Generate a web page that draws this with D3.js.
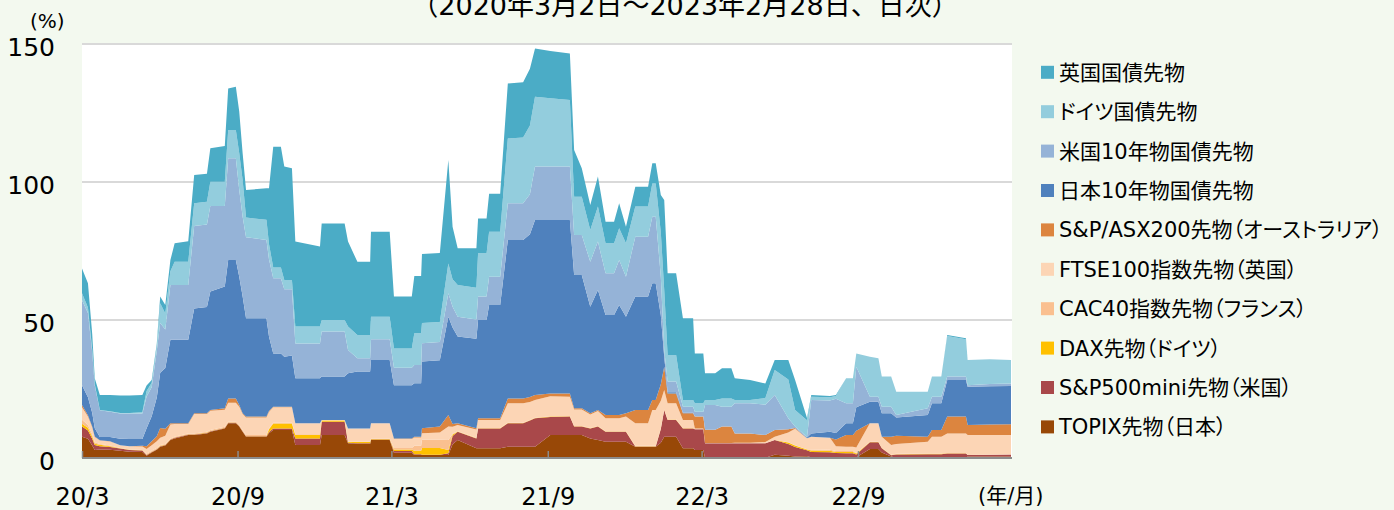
<!DOCTYPE html>
<html>
<head>
<meta charset="utf-8">
<script src="https://cdn.jsdelivr.net/npm/d3@7"></script>
<style>
body { margin: 0; background: #f3f9ef; }
svg { display: block; }
.jp { font-family: "DejaVu Sans", "Noto Sans CJK JP", sans-serif; font-feature-settings: "palt" 1; }
.num { font-family: "DejaVu Sans", sans-serif; }
</style>
</head>
<body>
<svg id="chart" width="1394" height="510"></svg>
<script>
// 2020/3/2 - 2023/2/28
var dates = [
  '2020-03-02','2020-03-09','2020-03-14','2020-03-17','2020-03-23','2020-04-04','2020-04-16','2020-04-27','2020-05-12','2020-05-17',
  '2020-05-23','2020-05-29','2020-06-02','2020-06-08','2020-06-14','2020-06-19','2020-07-05','2020-07-12','2020-07-27','2020-07-31',
  '2020-08-17','2020-08-21','2020-08-30','2020-09-03','2020-09-07','2020-09-11','2020-10-05','2020-10-08','2020-10-13','2020-10-22',
  '2020-10-26','2020-11-04','2020-11-08','2020-12-07','2020-12-09','2021-01-05','2021-01-09','2021-01-20','2021-02-04','2021-02-05',
  '2021-02-27','2021-03-04','2021-03-25','2021-03-28','2021-04-05','2021-04-06','2021-04-27','2021-05-07','2021-05-12','2021-05-18',
  '2021-06-09','2021-06-11','2021-06-21','2021-06-24','2021-07-07','2021-07-16','2021-08-03','2021-08-11','2021-08-17','2021-09-04',
  '2021-09-27','2021-10-02','2021-10-11','2021-10-21','2021-10-30','2021-11-08','2021-11-18','2021-11-24','2021-12-02','2021-12-13',
  '2021-12-28','2022-01-02','2022-01-06','2022-01-12','2022-01-16','2022-01-20','2022-01-30','2022-02-07','2022-02-19','2022-02-21',
  '2022-03-03','2022-03-05','2022-03-17','2022-03-25','2022-04-05','2022-04-09','2022-04-27','2022-05-15','2022-05-26','2022-06-11',
  '2022-06-19','2022-07-03','2022-07-08','2022-07-30','2022-08-06','2022-08-18','2022-08-26','2022-08-30','2022-09-15','2022-09-25',
  '2022-09-29','2022-10-10','2022-10-16','2022-11-22','2022-11-27','2022-12-08','2022-12-15','2023-01-06','2023-01-08','2023-02-03',
  '2023-02-28'
];

var topix = [
  7.7,7.0,4.5,2.9,3.1,3.0,2.6,2.3,2.2,0.8,
  2.0,3.0,4.1,4.5,6.5,7.1,8.3,8.3,8.9,9.5,
  10.7,12.6,12.6,11.4,9.5,7.7,7.7,9.0,10.1,10.1,
  10.1,10.1,4.7,4.7,8.3,8.3,5.3,5.1,5.1,6.5,
  6.5,1.9,1.9,1.1,1.1,1.1,1.1,1.1,5.0,6.5,
  3.5,3.5,3.5,3.5,3.5,4.1,4.1,4.1,4.1,8.3,
  8.3,8.3,8.3,7.1,6.5,5.9,5.9,5.9,5.9,4.1,
  4.1,4.1,4.1,5.5,7.7,7.7,7.7,3.5,3.5,2.9,
  2.9,0.1,0.1,0.1,0.1,0.1,0.1,0.1,1.2,0.8,
  0.5,0.6,0.3,0.3,0.3,0.3,0.3,0.3,3.3,3.3,
  2.0,0.5,0.1,0.1,0.1,0.1,0.2,0.2,0.5,0.5,
  0.5
];
var sp500 = [
  3.7,3.0,2.5,1.8,1.2,1.0,0.8,0.6,0.5,0.3,
  0.2,0.2,0.2,0.2,0.2,0.2,0.2,0.2,0.2,0.2,
  0.2,0.2,0.2,0.2,0.2,0.2,0.2,0.4,0.6,0.6,
  0.6,0.6,2.4,2.4,4.8,4.8,0.2,0.2,0.2,0.2,
  0.2,0.6,0.6,0.3,0.3,0.1,0.1,0.6,3.0,3.0,
  3.6,7.2,7.2,7.2,7.2,8.5,8.5,9.5,10.3,6.6,
  6.7,3.1,3.1,3.6,4.9,3.6,3.6,3.6,3.6,0.1,
  0.1,0.1,0.1,5.0,9.7,6.1,6.1,7.2,7.2,7.5,
  7.5,5.2,5.2,5.2,5.2,5.2,5.2,5.2,5.3,4.3,
  3.5,2.2,1.9,1.8,1.5,1.4,1.4,1.0,2.4,2.4,
  1.5,0.5,1.2,1.3,1.3,1.3,1.4,1.4,0.6,0.7,
  0.8
];
var dax = [
  1.0,1.0,0.8,0.5,0.5,0.3,0.1,0.1,0.1,0.1,
  0.1,0.1,0.1,0.1,0.1,0.1,0.1,0.1,0.1,0.1,
  0.1,0.1,0.1,0.1,0.1,0.1,0.1,1.0,1.8,1.8,
  1.8,1.8,1.2,1.2,0.5,0.5,0.3,0.5,0.5,0.2,
  0.2,0.6,0.6,1.2,1.2,2.4,2.4,1.2,0.5,0.1,
  0.1,0.1,0.1,0.1,0.1,0.1,0.1,0.1,0.1,0.1,
  0.1,0.1,0.1,0.1,0.1,0.1,0.1,0.1,0.1,0.1,
  0.1,0.1,0.1,0.1,0.1,0.1,0.1,0.1,0.1,0.0,
  0.0,0.0,0.0,0.0,0.0,0.0,0.0,0.0,0.0,0.5,
  0.5,0.3,0.5,0.5,0.4,0.5,0.5,0.3,0.1,0.1,
  0.1,0.1,0.1,0.1,0.1,0.1,0.1,0.1,0.0,0.0,
  0.0
];
var cac40 = [
  1.5,1.0,0.8,0.5,0.3,0.2,0.1,0.1,0.1,0.3,
  0.3,0.3,0.3,0.3,0.3,0.3,0.3,0.3,0.3,0.3,
  0.3,0.3,0.3,0.3,0.3,0.3,0.3,0.3,0.3,0.3,
  0.3,0.3,0.3,0.3,0.1,0.1,0.1,0.1,0.1,0.1,
  0.1,0.5,0.5,1.8,1.8,3.0,3.0,3.6,0.3,0.1,
  0.1,0.1,0.1,0.1,0.1,0.1,0.1,0.1,0.1,0.1,
  0.1,0.1,0.1,0.1,0.1,0.1,0.1,0.1,0.1,0.1,
  0.1,0.1,0.1,0.1,0.1,0.1,0.1,0.1,0.1,0.0,
  0.0,0.0,0.0,0.0,0.0,0.0,0.0,0.0,0.0,0.1,
  0.1,0.1,0.4,0.4,0.3,0.3,0.3,0.2,0.1,0.1,
  0.1,0.1,0.1,0.1,0.1,0.1,0.1,0.1,0.0,0.0,
  0.0
];
var ftse100 = [
  4.5,3.0,2.5,1.9,1.2,1.5,1.0,1.2,1.3,1.8,
  2.0,2.5,2.6,3.0,5.0,4.6,3.4,7.0,6.4,7.0,
  6.2,6.8,6.8,6.6,5.8,6.4,6.4,6.0,5.6,5.6,
  5.6,5.6,4.0,4.0,0.1,0.1,4.8,4.8,4.8,5.6,
  5.6,3.3,3.3,3.0,3.0,2.4,2.6,4.9,2.5,2.3,
  3.0,2.9,2.9,2.9,2.9,7.0,7.0,6.5,6.4,7.3,
  7.0,6.0,6.0,4.9,5.4,4.7,4.7,4.7,5.3,8.2,
  8.2,13.0,13.0,10.0,7.0,5.8,5.8,2.9,2.9,0.3,
  0.3,0.1,0.1,0.1,0.1,0.2,0.2,0.5,1.2,3.5,
  6.0,4.0,4.6,4.3,1.8,1.6,1.6,2.0,6.7,6.7,
  4.0,3.5,3.6,4.3,6.1,6.1,7.1,7.1,7.2,7.1,
  7.0
];
var asx200 = [
  0.8,0.5,0.3,0.2,0.1,0.1,0.0,0.0,0.2,1.0,
  1.5,1.8,3.6,2.5,0.5,0.3,0.3,0.3,0.3,0.3,
  0.5,1.6,1.6,0.6,0.3,0.3,0.3,0.3,0.2,0.2,
  0.2,0.2,0.0,0.0,0.0,0.0,0.0,0.0,0.0,0.0,
  0.0,0.2,0.2,0.3,0.3,1.8,2.2,4.2,1.0,0.6,
  0.5,0.6,0.6,0.6,0.6,1.8,1.8,1.8,1.8,1.0,
  1.2,0.4,0.4,0.4,0.4,1.2,1.2,1.2,1.2,4.8,
  4.8,3.6,3.6,6.0,8.5,3.6,3.6,2.4,2.4,4.3,
  4.3,4.8,4.8,6.0,6.0,3.4,3.4,2.5,2.4,1.2,
  0.3,0.0,0.0,0.0,2.4,4.2,4.2,6.1,0.0,0.0,
  0.0,3.0,3.0,1.8,2.4,2.4,6.1,6.1,3.7,3.8,
  3.9
];
var jgb10 = [
  7.2,6.5,5.0,3.0,1.2,1.5,2.4,2.6,2.5,6.5,
  9.0,14.0,20.0,22.0,30.2,30.2,30.2,38.0,38.5,42.9,
  44.1,50.1,50.1,46.5,42.3,35.6,35.6,27.0,19.3,19.3,
  18.1,18.5,16.3,16.3,15.7,15.7,20.0,20.6,20.6,22.9,
  22.9,19.3,19.3,19.4,19.4,24.2,24.0,35.6,35.0,31.4,
  32.4,35.6,35.6,41.0,41.0,57.4,57.4,59.0,63.4,62.8,
  62.8,48.3,48.3,38.6,43.5,36.2,36.2,39.8,35.0,41.1,
  41.1,42.3,42.3,25.0,3.6,0.4,0.4,0.2,0.2,0.0,
  0.0,0.0,0.0,0.0,0.0,0.0,0.0,0.0,0.0,0.0,
  0.0,0.2,1.2,2.2,2.4,4.3,4.3,8.5,7.8,7.8,
  8.5,8.5,6.6,7.9,9.7,9.7,13.3,13.3,13.8,13.9,
  13.9
];
var ust10 = [
  30.8,30.5,22.0,15.5,9.7,9.2,9.1,9.2,9.2,11.5,
  10.5,17.0,18.0,14.0,19.9,19.9,19.9,29.9,29.9,31.0,
  29.2,36.9,36.9,31.4,28.9,29.4,28.4,28.0,27.2,27.2,
  24.4,24.0,12.6,12.6,16.3,16.3,8.4,4.8,4.8,7.5,
  7.5,6.3,6.3,6.6,6.6,6.6,6.6,8.5,7.5,7.2,
  7.0,8.5,8.5,10.3,10.3,13.3,13.3,14.5,19.4,19.4,
  19.4,14.5,14.5,16.3,17.5,15.1,15.1,16.3,14.5,21.7,
  21.7,24.1,24.1,14.0,2.4,3.9,3.9,2.2,2.2,1.8,
  1.8,9.0,9.0,7.2,7.2,10.9,10.9,11.0,12.7,4.0,
  0.5,0.3,12.1,11.3,12.4,7.2,7.2,14.7,1.8,1.8,
  2.4,2.4,0.9,2.4,2.4,2.4,1.2,1.2,0.6,0.8,
  0.9
];
var bund = [
  2.5,2.0,1.0,0.5,0.1,0.1,0.2,0.2,0.5,2.0,
  1.7,1.6,7.2,5.8,5.0,8.4,8.4,8.2,8.2,8.8,
  8.8,10.2,10.2,13.3,13.3,7.1,7.3,5.5,3.9,3.9,
  3.4,3.4,6.1,6.1,4.2,4.2,8.5,8.5,8.5,8.2,
  8.2,7.0,7.0,11.5,11.5,7.3,7.3,10.8,10.0,11.5,
  11.5,15.7,15.7,16.3,16.3,23.5,23.8,24.9,25.3,24.7,
  24.1,13.9,13.9,11.5,12.7,10.9,10.9,11.5,12.1,10.9,
  10.9,12.1,12.1,16.0,21.8,9.6,9.6,2.4,2.4,3.0,
  3.0,1.8,1.8,3.0,3.0,1.2,1.2,2.4,9.1,14.0,
  6.0,6.0,1.2,1.2,1.0,9.1,9.1,4.8,14.5,13.9,
  10.9,10.9,8.4,6.0,7.3,7.3,14.7,13.5,9.1,9.0,
  8.5
];
var gilt = [
  9.0,8.8,5.6,2.1,5.4,5.9,6.3,6.3,6.2,2.0,
  1.0,1.0,2.4,3.0,4.0,6.7,7.4,10.2,10.2,12.1,
  12.9,15.1,15.7,15.1,9.7,10.0,11.4,20.2,43.8,43.8,
  41.1,40.5,30.8,29.0,35.0,35.0,30.8,26.5,26.5,30.8,
  30.8,18.8,18.8,20.7,20.7,25.0,25.0,37.5,19.0,13.3,
  14.3,12.6,12.6,13.7,13.7,19.9,20.0,20.5,17.5,17.2,
  16.9,16.9,10.3,9.1,10.9,7.8,7.8,9.1,6.0,7.2,
  7.2,7.3,7.3,13.6,32.6,29.6,29.6,29.6,29.6,18.1,
  18.1,9.7,9.7,10.9,10.9,7.9,7.3,5.3,3.6,7.1,
  10.9,0.8,0.6,0.5,0.3,0.0,0.0,0.0,0.0,0.0,
  0.0,0.0,0.0,0.0,0.0,0.0,0.4,0.4,0.0,0.0,
  0.0
];

// stack order, bottom first
var seriesKeys = ['topix', 'sp500', 'dax', 'cac40', 'ftse100', 'asx200', 'jgb10', 'ust10', 'bund', 'gilt'];
var seriesValues = [topix, sp500, dax, cac40, ftse100, asx200, jgb10, ust10, bund, gilt];
var seriesNames = ['TOPIX先物（日本）', 'S&P500mini先物（米国）', 'DAX先物（ドイツ）', 'CAC40指数先物（フランス）',
  'FTSE100指数先物（英国）', 'S&P/ASX200先物（オーストラリア）', '日本10年物国債先物', '米国10年物国債先物',
  'ドイツ国債先物', '英国国債先物'];
var seriesColors = ['#984807', '#a9484a', '#ffc000', '#fac090', '#fcd5b5', '#dc853f', '#4f81bd', '#95b3d7', '#93cddd', '#4bacc6'];

var tickDates = ['2020-03-02', '2020-09-01', '2021-03-01', '2021-09-01', '2022-03-01', '2022-09-01'];
var tickLabels = ['20/3', '20/9', '21/3', '21/9', '22/3', '22/9'];
var yTicks = [0, 50, 100, 150];

var parse = d3.timeParse('%Y-%m-%d');

var rows = dates.map(function (d, i) {
  var r = { date: parse(d) };
  seriesKeys.forEach(function (k, j) { r[k] = seriesValues[j][i]; });
  return r;
});

var plotLeft = 82, plotRight = 1012, plotTop = 44, plotBottom = 458;

var svg = d3.select('#chart');

var x = d3.scaleTime()
  .domain([parse(dates[0]), parse(dates[dates.length - 1])])
  .range([plotLeft, plotRight - 1]);
var y = d3.scaleLinear().domain([0, 150]).range([plotBottom, plotTop]);

// plot area
svg.append('rect')
  .attr('x', plotLeft).attr('y', plotTop)
  .attr('width', plotRight - plotLeft).attr('height', plotBottom - plotTop)
  .attr('fill', '#ffffff');

// grid
svg.append('g').selectAll('line')
  .data(yTicks.filter(function (v) { return v > 0; }))
  .enter().append('line')
  .attr('x1', plotLeft).attr('x2', plotRight)
  .attr('y1', function (d) { return y(d); })
  .attr('y2', function (d) { return y(d); })
  .attr('stroke', '#d9d9d9')
  .attr('stroke-width', 2);

var stacked = d3.stack().keys(seriesKeys)(rows);

var area = d3.area()
  .x(function (d) { return x(d.data.date); })
  .y0(function (d) { return y(d[0]); })
  .y1(function (d) { return y(d[1]); });

svg.append('g').selectAll('path')
  .data(stacked)
  .enter().append('path')
  .attr('d', area)
  .attr('fill', function (d, i) { return seriesColors[i]; });

// x axis
var xAxis = d3.axisBottom(x)
  .tickValues(tickDates.map(parse))
  .tickSize(-7)
  .tickPadding(30)
  .tickFormat(function (d, i) { return tickLabels[i]; });

var gx = svg.append('g')
  .attr('transform', 'translate(0,' + plotBottom + ')')
  .call(xAxis);
gx.select('.domain').remove();
gx.selectAll('.tick line').attr('stroke', '#8c8c8c').attr('stroke-width', 1.5);
gx.selectAll('.tick text')
  .attr('class', 'num')
  .attr('fill', '#000')
  .style('font-size', '24px');

svg.append('line')
  .attr('x1', plotLeft).attr('x2', plotRight)
  .attr('y1', plotBottom).attr('y2', plotBottom)
  .attr('stroke', '#8c8c8c')
  .attr('stroke-width', 2);

// y axis
var gy = svg.append('g')
  .attr('transform', 'translate(' + plotLeft + ',0)')
  .call(d3.axisLeft(y).tickValues(yTicks).tickSize(0).tickPadding(27));
gy.select('.domain').remove();
gy.selectAll('.tick text')
  .attr('class', 'num')
  .attr('fill', '#000')
  .attr('dy', '0.45em')
  .style('font-size', '25px');

svg.append('text')
  .attr('class', 'num')
  .attr('x', 30).attr('y', 28)
  .style('font-size', '20px')
  .text('(%)');

svg.append('text')
  .attr('class', 'jp')
  .attr('x', 978).attr('y', 503)
  .style('font-size', '21px')
  .text('(年/月)');

svg.append('text')
  .attr('class', 'jp')
  .attr('x', 685).attr('y', 15)
  .attr('text-anchor', 'middle')
  .style('font-size', '27px')
  .style('font-feature-settings', 'normal')
  .text('（2020年3月2日～2023年2月28日、日次）');

// legend, top of stack first
var legendItems = seriesKeys.map(function (k, i) { return i; }).reverse();
var lg = svg.append('g').selectAll('g')
  .data(legendItems)
  .enter().append('g')
  .attr('transform', function (d, i) { return 'translate(1041,' + (72.3 + i * 39.4) + ')'; });

lg.append('rect')
  .attr('x', 0).attr('y', -6.5)
  .attr('width', 13).attr('height', 13)
  .attr('fill', function (d) { return seriesColors[d]; });

lg.append('text')
  .attr('class', 'jp')
  .attr('x', 18).attr('y', 7.5)
  .style('font-size', '21px')
  .text(function (d) { return seriesNames[d]; });
</script>
</body>
</html>
